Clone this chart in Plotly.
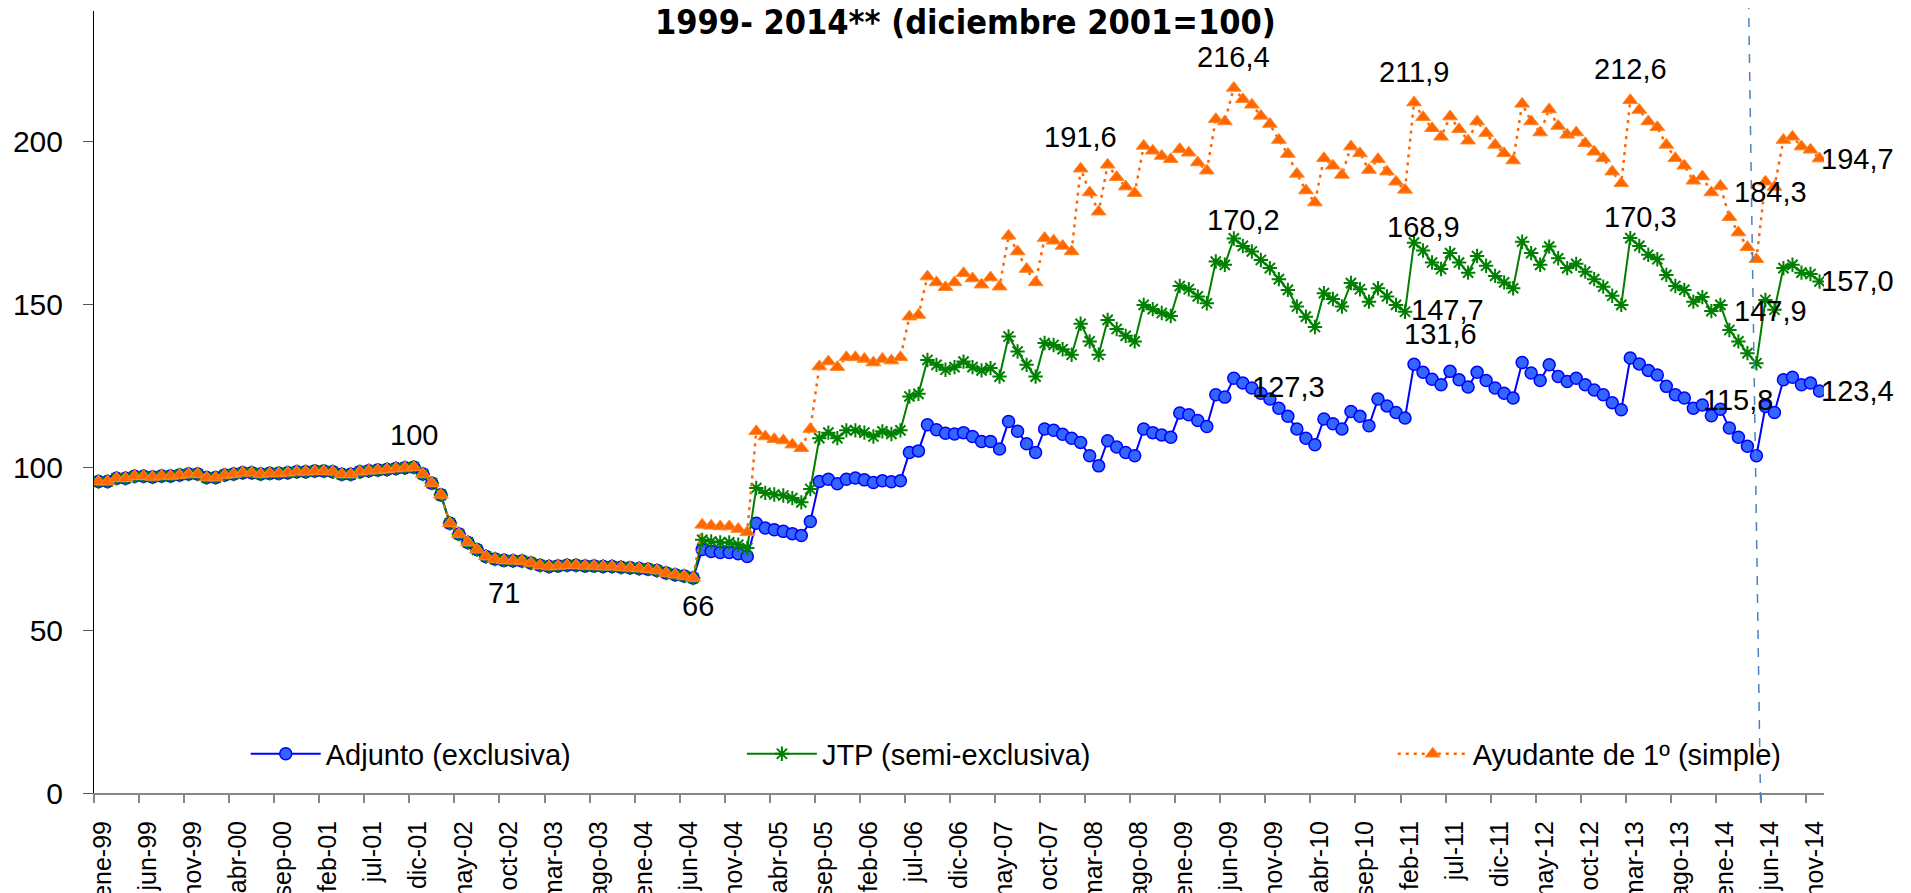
import plotly.graph_objects as go

# --- periodos mensuales ene-99 .. dic-14 ---
meses = ["ene", "feb", "mar", "abr", "may", "jun", "jul", "ago", "sep", "oct", "nov", "dic"]
periodos = [f"{mes}-{str(anio)[2:]}" for anio in range(1999, 2015) for mes in meses]

# --- valores (indice diciembre 2001 = 100) ---
# tramo comun a las tres categorias: ene-99 .. jul-04
comun = [95.6, 95.6, 96.6, 96.6, 97.2, 97.2, 97.0, 97.3, 97.3, 97.6, 97.9, 97.9,
         96.8, 96.8, 97.6, 97.9, 98.3, 98.3, 97.9, 98.1, 98.1, 98.3, 98.6, 98.6,
         98.8, 98.8, 98.6, 97.8, 97.8, 98.6, 98.9, 99.1, 99.3, 99.6, 99.8, 100.0,
         97.9, 95.1, 91.5, 82.8, 79.5, 76.9, 74.7, 72.6, 71.8, 71.4, 71.3, 71.2,
         70.6, 69.9, 69.5, 69.7, 69.9, 69.9, 69.7, 69.7, 69.5, 69.5, 69.3, 69.1,
         68.9, 68.7, 68.3, 67.5, 67.0, 66.6, 66.0]

# ago-04 .. dic-14
adjunto_resto = [74.7, 74.1, 73.8, 73.8, 73.4, 72.6,
                 82.8, 81.3, 80.8, 80.3, 79.6, 79.0, 83.3,
                 95.6, 96.3, 94.9, 96.3, 96.7, 96.1, 95.3, 95.8, 95.5, 95.8,
                 104.5, 105.0,
                 113.0, 111.5, 110.4, 110.2, 110.6, 109.4, 107.9, 107.9, 105.6,
                 114.0, 111.0, 107.2, 104.5, 111.7, 111.3, 110.1, 108.9, 107.6, 103.5,
                 100.4, 108.1, 106.2, 104.5, 103.5, 111.7, 110.6, 109.9, 109.2, 116.6,
                 116.1, 114.3, 112.5, 122.2, 121.5, 127.3, 125.8, 124.3, 122.7, 120.9,
                 118.1, 115.6, 111.7,
                 108.9, 106.9, 114.8, 113.3, 111.7, 117.1, 115.6, 112.7, 120.9, 118.8,
                 116.8, 115.1, 131.6, 129.1, 127.0, 125.3, 129.4, 126.8, 124.6, 129.1,
                 126.6, 124.3, 122.7, 121.2, 132.1, 128.9, 126.6, 131.4, 127.8,
                 126.3, 127.3, 125.3, 123.7, 122.2, 119.8, 117.6, 133.5, 131.7, 129.7,
                 128.3, 124.8, 122.2, 121.2, 118.1, 119.1, 115.8, 117.8, 112.0, 109.2,
                 106.4, 103.5, 118.6, 116.8, 126.8, 127.6, 125.3, 125.8, 123.4]

jtp_resto = [77.7, 77.2, 76.9, 76.9, 76.2, 75.2,
             93.6, 92.1, 91.6, 91.3, 90.5, 89.2, 93.3,
             108.9, 110.6, 108.9, 111.3, 111.3, 110.6, 109.4, 111.0, 110.2, 111.3,
             121.7, 122.5,
             132.9, 131.4, 129.9, 130.7, 132.4, 130.7, 129.7, 130.4, 127.8,
             140.1, 135.5, 131.4, 127.8, 138.1, 137.5, 136.2, 134.5, 144.0, 138.6,
             134.5, 145.2, 142.4, 140.3, 138.6, 149.8, 148.5, 147.3, 146.4, 155.6,
             154.6, 152.4, 150.3, 163.1, 162.1, 170.2, 167.9, 166.2, 163.6, 161.1,
             157.7, 154.4, 149.3,
             146.2, 143.0, 153.4, 151.6, 149.3, 156.5, 154.6, 150.8, 154.9, 152.4,
             149.8, 147.7, 168.9, 166.5, 162.8, 160.8, 165.7, 162.8, 159.7, 164.8,
             161.8, 158.7, 156.7, 154.9, 169.2, 165.7, 162.1, 167.7, 164.1,
             161.1, 162.4, 160.0, 157.7, 155.4, 152.6, 149.8, 170.3, 167.9, 165.2,
             163.8, 159.0, 155.6, 154.4, 150.8, 152.2, 147.9, 149.8, 142.1, 138.6,
             135.0, 131.9, 151.3, 148.3, 161.1, 162.1, 159.7, 159.3, 157.0]

ayudante_resto = [82.3, 82.0, 81.8, 81.8, 81.0, 80.0,
                  111.0, 109.4, 108.6, 108.2, 106.9, 105.8, 111.7,
                  130.9, 132.4, 130.7, 133.7, 133.7, 133.2, 132.1, 133.2, 132.7, 133.7,
                  146.2, 146.7,
                  158.5, 156.7, 155.2, 156.7, 159.5, 157.9, 156.0, 158.2, 155.4,
                  171.0, 166.2, 160.8, 156.7, 170.3, 169.5, 167.9, 166.2, 191.6, 184.3,
                  178.4, 192.8, 189.0, 186.1, 184.1, 198.6, 197.1, 195.5, 194.5, 197.6,
                  196.5, 193.5, 191.0, 206.8, 206.1, 216.4, 212.9, 211.2, 207.8, 205.3,
                  200.4, 196.1, 190.0,
                  184.9, 181.2, 194.8, 192.5, 189.7, 198.4, 196.3, 191.2, 194.5, 190.7,
                  187.6, 185.1, 211.9, 207.4, 204.0, 201.4, 207.6, 203.7, 200.2, 206.1,
                  202.5, 198.9, 196.3, 194.1, 211.5, 206.1, 202.7, 209.8, 204.7,
                  202.0, 202.7, 199.4, 196.8, 194.8, 190.7, 187.1, 212.6, 209.6, 206.1,
                  204.3, 198.9, 194.8, 192.5, 187.9, 189.2, 184.3, 186.3, 176.7, 172.0,
                  167.5, 163.8, 187.6, 186.0, 200.4, 201.4, 198.4, 197.4, 194.7]

adjunto = comun + adjunto_resto
jtp = comun + jtp_resto
ayudante = comun + ayudante_resto

series = {"adjunto": adjunto, "jtp": jtp, "ayudante": ayudante}

# etiquetas de datos: (serie, indice del mes, decimales, desplaz. x, desplaz. y)
etiquetas = [
    ("ayudante", 35, 0, 0, 32),
    ("ayudante", 45, 0, 0, -33),
    ("ayudante", 66, 0, 5, -28),
    ("ayudante", 109, 1, 0, 32),
    ("ayudante", 126, 1, 0, 31),
    ("jtp", 126, 1, 10, 18),
    ("adjunto", 126, 1, 55, -9),
    ("ayudante", 146, 1, 0, 31),
    ("jtp", 146, 1, 9, 16),
    ("jtp", 145, 1, 42, 2),
    ("adjunto", 146, 1, 26, 30),
    ("ayudante", 170, 1, 0, 31),
    ("jtp", 170, 1, 10, 21),
    ("ayudante", 179, 1, 59, 0),
    ("jtp", 179, 1, 59, 0),
    ("adjunto", 179, 1, 27, 16),
    ("ayudante", 191, 1, 38, 0),
    ("jtp", 191, 1, 38, 0),
    ("adjunto", 191, 1, 38, 0),
]

x = list(range(len(periodos)))
FUENTE = "Liberation Sans, Arial, sans-serif"

fig = go.Figure()

fig.add_trace(go.Scatter(
    x=x, y=adjunto, name="Adjunto (exclusiva)", mode="lines+markers",
    line=dict(color="#0000FF", width=2),
    marker=dict(symbol="circle", size=12, color="#3366FF",
                line=dict(color="#0000FF", width=1.5)),
    legend="legend",
))
fig.add_trace(go.Scatter(
    x=x, y=jtp, name="JTP (semi-exclusiva)", mode="lines+markers",
    line=dict(color="#008000", width=2),
    marker=dict(symbol="asterisk-open", size=12, color="#008000",
                line=dict(color="#008000", width=2)),
    legend="legend2",
))
fig.add_trace(go.Scatter(
    x=x, y=ayudante, name="Ayudante de 1º (simple)", mode="lines+markers",
    line=dict(color="#FF6600", width=2.5, dash="3px,5px"),
    marker=dict(symbol="triangle-up", size=13, color="#FF6600",
                line=dict(color="#FF8A2A", width=1)),
    legend="legend3",
))

for serie, i, dec, dx, dy in etiquetas:
    v = series[serie][i]
    texto = f"{v:.{dec}f}".replace(".", ",")
    fig.add_annotation(x=i, y=v, text=texto, showarrow=False,
                       xshift=dx, yshift=dy,
                       font=dict(family=FUENTE, size=29, color="black"))

# titulo
fig.add_annotation(text="<b>1999- 2014** (diciembre 2001=100)</b>",
                   xref="paper", yref="paper", x=0.5037, y=0.9862,
                   xanchor="center", yanchor="middle", showarrow=False,
                   font=dict(family="DejaVu Sans Condensed, DejaVu Sans, sans-serif",
                             size=34, color="black"))

# linea vertical punteada (corte 2014)
fig.add_shape(type="line", xref="paper", yref="paper",
              x0=0.9564, y0=1.014, x1=0.9633, y1=-0.0084,
              line=dict(color="#4F81BD", width=1.5, dash="dash"), layer="above")

leyenda = dict(orientation="h", yanchor="middle", y=0.05, xanchor="left",
               bgcolor="rgba(0,0,0,0)", itemwidth=70,
               font=dict(family=FUENTE, size=29, color="black"))

fig.update_layout(
    width=1911, height=893,
    paper_bgcolor="white", plot_bgcolor="white",
    margin=dict(l=86, r=95, t=3, b=108, autoexpand=False),
    legend=dict(leyenda, x=0.0877),
    legend2=dict(leyenda, x=0.3745),
    legend3=dict(leyenda, x=0.7507),
    showlegend=True,
    xaxis=dict(range=[-0.5, 191.5], tickvals=[i - 0.5 for i in x[::5]],
               ticktext=periodos[::5], tickangle=-90, ticklabelshift=9,
               ticklabelstandoff=8, automargin=False,
               showgrid=False, zeroline=False, showline=True,
               linecolor="#868686", linewidth=2, ticks="outside",
               ticklen=8, tickcolor="#868686", tickwidth=1.5,
               tickfont=dict(family=FUENTE, size=25, color="black")),
    yaxis=dict(range=[0, 240], tickvals=[0, 50, 100, 150, 200],
               automargin=False,
               showgrid=False, zeroline=False, showline=True,
               linecolor="black", linewidth=1, ticks="outside",
               ticklen=10, tickcolor="#555555", ticklabelstandoff=14,
               tickfont=dict(family=FUENTE, size=30, color="black")),
)

fig.write_html("out.html")
